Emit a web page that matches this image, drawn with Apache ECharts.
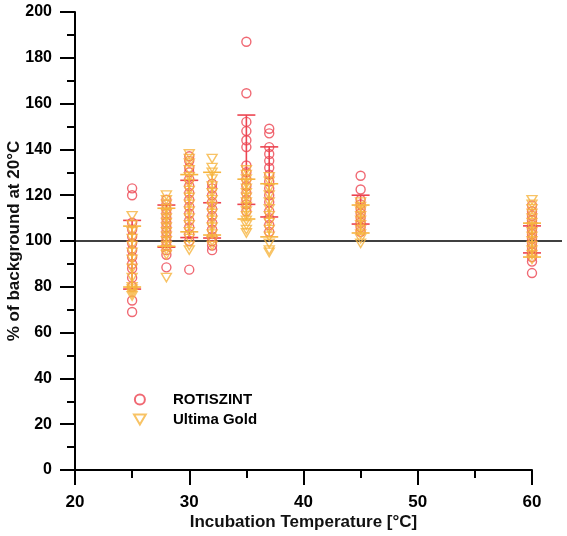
<!DOCTYPE html>
<html>
<head>
<meta charset="utf-8">
<script src="https://cdn.jsdelivr.net/npm/echarts@6/dist/echarts.min.js"></script>
<style>html,body{margin:0;padding:0;background:#fff}#c{width:567px;height:536px}</style>
</head>
<body>
<div id="c"></div>
<script>
const temps = [25, 28, 30, 32, 35, 37, 45, 60];

const rotiValues = [
  [123, 120, 108, 105, 102, 99, 96, 93, 90, 88, 84, 80, 74, 69],
  [118, 116, 114, 112, 110, 108, 106, 104, 102, 100, 98, 96, 94, 88.5],
  [137, 135, 132, 130, 127, 124, 121, 118, 115, 112, 109, 106, 103, 100, 87.5],
  [125, 123, 120, 117, 114, 111, 108, 105, 102, 100, 98, 96],
  [187, 164.5, 152, 148, 144, 141, 133, 130, 127, 124, 121, 118, 116, 113],
  [149, 147, 141, 138, 135, 132, 129, 126, 123, 120, 117, 113, 110, 107, 104],
  [128.5, 122.5, 118, 116, 114, 112, 110, 108, 106, 104],
  [115.5, 113, 111, 109, 107, 105, 103, 101, 99, 97, 95, 93, 91, 86]
];
const rotiMean = [94, 106.5, 114, 109, 135.5, 125.8, 113.7, 100.7];
const rotiSD   = [15, 9.2, 12.5, 7.7, 19.5, 15.3, 6.3, 5.9];

const ultimaValues = [
  [111, 107, 104, 101, 98, 95, 92, 88, 84, 80, 79, 78, 77, 76],
  [120, 118, 116, 114, 112, 110, 108, 106, 104, 102, 100, 98, 96, 94, 84],
  [138, 136, 134, 131, 128, 125, 122, 119, 116, 113, 110, 107, 104, 101, 98, 96],
  [136, 132, 130, 127, 124, 121, 118, 115, 112, 109, 106, 103, 100, 98],
  [131, 129, 127, 125, 123, 121, 119, 117, 115, 113, 111, 109, 107, 105, 103.5],
  [128, 126, 123, 120, 117, 114, 111, 108, 105, 102, 99, 96, 95],
  [117, 115, 113, 111, 109, 107, 105, 103, 101, 99],
  [118, 116, 114, 112, 110, 108, 106, 104, 102, 100, 98, 96, 94, 92]
];
const ultimaMean = [93.2, 106, 116.5, 116.3, 118.3, 113.4, 109.6, 100.4];
const ultimaSD   = [13.3, 8.3, 12.5, 13.7, 8.7, 11.6, 6.1, 7.4];

const refValue = 100;
const xTicks = [20, 30, 40, 50, 60];
const yTicks = [0, 20, 40, 60, 80, 100, 120, 140, 160, 180, 200];

const RED = '#ec4450';
const ORANGE = '#f6b43e';
const DOWN_TRI = 'path://M0,0 L10,0 L5,8.5 Z';

function points(vals) {
  const out = [];
  temps.forEach((t, i) => vals[i].forEach(v => out.push([t, v])));
  return out;
}
function bars(mean, sd) {
  return temps.map((t, i) => [t, mean[i], sd[i]]);
}
function errRender(color) {
  return function (params, api) {
    const x = api.value(0), m = api.value(1), s = api.value(2);
    const top = api.coord([x, m + s]);
    const bot = api.coord([x, m - s]);
    const hw = 9;
    const style = { stroke: color, lineWidth: 1.6 };
    return {
      type: 'group',
      children: [
        { type: 'line', shape: { x1: top[0], y1: top[1], x2: bot[0], y2: bot[1] }, style },
        { type: 'line', shape: { x1: top[0] - hw, y1: top[1], x2: top[0] + hw, y2: top[1] }, style },
        { type: 'line', shape: { x1: bot[0] - hw, y1: bot[1], x2: bot[0] + hw, y2: bot[1] }, style }
      ]
    };
  };
}

const font = 'Liberation Sans, Arial, sans-serif';
const chart = echarts.init(document.getElementById('c'), null, { renderer: 'canvas' });
chart.setOption({
  animation: false,
  backgroundColor: '#fff',
  grid: [
    { left: 75, right: 35, top: 12, bottom: 66, containLabel: false, outerBoundsMode: 'none' },
    { left: 75, right: 5, top: 12, bottom: 66, containLabel: false, outerBoundsMode: 'none' }
  ],
  legend: {
    orient: 'vertical',
    left: 128,
    top: 387,
    itemWidth: 56,
    itemHeight: 10,
    itemGap: 5,
    textStyle: { fontFamily: font, fontWeight: 'bold', fontSize: 15, color: '#000' },
    data: ['ROTISZINT', 'Ultima Gold']
  },
  xAxis: [
    {
      type: 'value', gridIndex: 0, min: xTicks[0], max: xTicks[xTicks.length - 1], interval: 10,
      name: 'Incubation Temperature [°C]', nameLocation: 'middle', nameGap: 44, nameMoveOverlap: false,
      nameTextStyle: { fontFamily: font, fontWeight: 'bold', fontSize: 17, color: '#111' },
      axisLine: { onZero: false, lineStyle: { color: '#000', width: 2 } },
      axisTick: { inside: false, length: 15, lineStyle: { color: '#000', width: 2 } },
      minorTick: { show: true, splitNumber: 2, length: 8, lineStyle: { color: '#000', width: 2 } },
      axisLabel: { fontFamily: font, fontWeight: 'bold', fontSize: 17, color: '#000', margin: 24 },
      splitLine: { show: false }
    },
    { type: 'value', gridIndex: 1, min: 0, max: 1, show: false }
  ],
  yAxis: [
    {
      type: 'value', gridIndex: 0, min: yTicks[0], max: yTicks[yTicks.length - 1], interval: 20,
      name: '% of background at 20°C', nameLocation: 'middle', nameGap: 52, nameMoveOverlap: false,
      nameTextStyle: { fontFamily: font, fontWeight: 'bold', fontSize: 17, color: '#111' },
      axisLine: { onZero: false, lineStyle: { color: '#000', width: 2 } },
      axisTick: { inside: false, length: 15, lineStyle: { color: '#000', width: 2 } },
      minorTick: { show: true, splitNumber: 2, length: 8, lineStyle: { color: '#000', width: 2 } },
      axisLabel: { fontFamily: font, fontWeight: 'bold', fontSize: 16, color: '#000', margin: 23 },
      splitLine: { show: false }
    },
    { type: 'value', gridIndex: 1, min: yTicks[0], max: yTicks[yTicks.length - 1], show: false }
  ],
  series: [
    {
      type: 'line', xAxisIndex: 1, yAxisIndex: 1, data: [[0, refValue], [1, refValue]],
      symbol: 'none', lineStyle: { color: '#000', width: 1.5 }, silent: true, z: 1
    },
    {
      name: 'ROTISZINT', type: 'scatter', data: points(rotiValues),
      symbol: 'circle', symbolSize: 9,
      itemStyle: { color: 'rgba(0,0,0,0)', borderColor: RED, borderWidth: 1.4 }, z: 2
    },
    {
      type: 'custom', data: bars(rotiMean, rotiSD), renderItem: errRender(RED), z: 3
    },
    {
      name: 'Ultima Gold', type: 'scatter', data: points(ultimaValues),
      symbol: DOWN_TRI, symbolSize: [10, 8.5],
      itemStyle: { color: 'rgba(0,0,0,0)', borderColor: ORANGE, borderWidth: 1.4 }, z: 4
    },
    {
      type: 'custom', data: bars(ultimaMean, ultimaSD), renderItem: errRender(ORANGE), z: 5
    }
  ]
});
</script>
</body>
</html>
